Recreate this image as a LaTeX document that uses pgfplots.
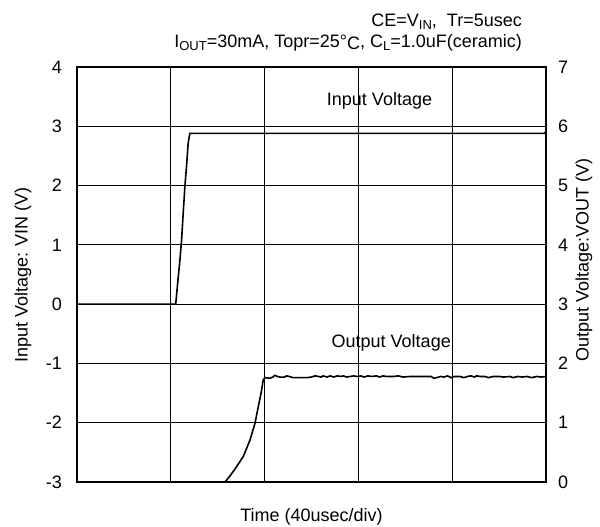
\documentclass[border=0pt]{standalone}
\usepackage{pgfplots}
\pgfplotsset{compat=1.18}
\usepackage{fontspec}
\setmainfont{Liberation Sans}
\newcommand{\sub}[1]{\raisebox{-2.5pt}{\fontsize{13}{13}\selectfont #1}}
\begin{document}
\fontsize{18}{21}\selectfont
\begin{tikzpicture}[font=\fontsize{18}{21}\selectfont]
\useasboundingbox (-77pt,-45pt) rectangle (523pt,482pt);
\begin{axis}[at={(0pt,0pt)}, anchor=south west, scale only axis,
  width=469pt, height=415pt,
  xmin=0, xmax=200, ymin=-3, ymax=4,
  xtick={0,40,...,200}, xticklabels={},
  ytick={-3,-2,...,4},
  grid=major, major grid style={black, line width=0.8pt},
  axis line style={black, line width=1.1pt},
  major tick length=0pt,
  yticklabel style={inner sep=0pt, xshift=-15pt},
  /pgf/number format/assume math mode=true,
  clip=false]
\addplot[black, line width=1.6pt] coordinates {
(0,0)(42.1,0)(42.8,0.30)(43.9,0.75)(44.6,1.08)(45.3,1.54)(46.0,1.98)(46.7,2.32)(47.4,2.71)(48.1,2.88)(120,2.88)(199.4,2.88)(200,2.92)
};
\node at (axis cs:129,3.43) {Input Voltage};
\node at (axis cs:134,-0.66) {Output Voltage};
\end{axis}
\begin{axis}[at={(0pt,0pt)}, anchor=south west, scale only axis,
  width=469pt, height=415pt,
  xmin=0, xmax=200, ymin=0, ymax=7,
  axis x line=none, axis y line*=right,
  ytick={0,1,...,7},
  axis line style={black, line width=1.1pt},
  major tick length=0pt,
  yticklabel style={inner sep=0pt, xshift=12pt},
  /pgf/number format/assume math mode=true]
\addplot[black, line width=1.6pt] coordinates {
(0,0)(63.1,0)(65.2,0.10)(67.4,0.22)(70.9,0.43)(73.8,0.71)(75.9,0.99)(77.3,1.27)(78.5,1.50)(79.4,1.72)(80.2,1.76)(82.3,1.75)(83.5,1.77)(84.4,1.80)(85.5,1.78)(86.6,1.77)(88.5,1.77)(89.4,1.79)(90.5,1.78)(92,1.76)(95.1,1.76)(98,1.76)(100,1.77)(101.5,1.79)(103,1.78)(104,1.77)(105,1.79)(106.5,1.77)(108,1.79)(109.5,1.77)(111,1.79)(112.5,1.78)(113.6,1.79)(115,1.77)(116.5,1.78)(118,1.79)(119.3,1.78)(121,1.79)(122.5,1.77)(124,1.79)(125.5,1.78)(127.8,1.79)(129,1.77)(130.5,1.79)(132,1.78)(134.9,1.78)(137,1.79)(139,1.77)(142,1.78)(145,1.78)(149.1,1.78)(151,1.78)(152.2,1.75)(153.4,1.76)(155,1.78)(156.5,1.77)(158,1.79)(159.5,1.76)(161,1.78)(163.3,1.78)(165,1.76)(166.5,1.78)(168,1.79)(169.5,1.77)(170.4,1.79)(172,1.78)(174,1.78)(175.5,1.76)(177.5,1.78)(180,1.78)(182,1.77)(184.6,1.78)(186,1.76)(188,1.78)(190,1.77)(191.8,1.78)(194,1.76)(196,1.78)(198,1.77)(200,1.78)
};
\end{axis}
\node[rotate=90] at (-54pt,207pt) {Input Voltage: VIN (V)};
\node[rotate=90] at (507pt,222pt) {Output Voltage:VOUT (V)};
\node[anchor=base east] at (451pt,455pt) {CE=V\sub{IN},\ \ Tr=5usec};
\node[anchor=base east] at (451pt,434pt) {I\sub{OUT}=30mA, Topr=25°\raisebox{-2pt}{C}, C\sub{L}=1.0uF(ceramic)};
\node at (234.5pt,-35pt) {Time (40usec/div)};
\end{tikzpicture}
\end{document}
